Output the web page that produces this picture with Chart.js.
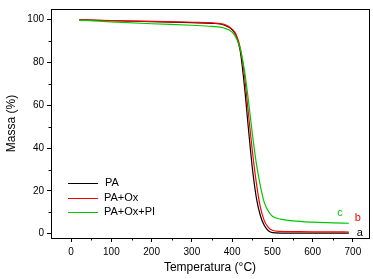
<!DOCTYPE html>
<html lang="pt">
<head>
<meta charset="UTF-8">
<title>TGA</title>
<script src="https://cdn.jsdelivr.net/npm/chart.js"></script>
<style>
  html, body { margin: 0; padding: 0; background: #fff; }
  #wrap { width: 373px; height: 279px; position: relative; }
</style>
</head>
<body>
<div id="wrap"><canvas id="tga"></canvas></div>
<script>
// temperatura (°C)
const temps = [20, 100, 200, 300, 350, 380, 400, 410, 420, 430, 440, 450, 460, 470, 480, 490, 500, 520, 550, 600, 650, 690];
// massa (%)
const massPA     = [100, 99.5, 99.1, 98.6, 98.3, 97.6, 95.3, 92.5, 85.5, 70, 50, 31, 17, 8.5, 3.8, 1.4, 0.5, 0.3, 0.3, 0.3, 0.3, 0.3];
const massPAOx   = [100, 99.6, 99.2, 98.8, 98.5, 97.8, 95.6, 93, 87, 75, 57, 39, 24, 12.5, 6, 3, 1.6, 1.1, 1, 0.9, 0.9, 0.8];
const massPAOxPI = [99.8, 99, 98.1, 97.4, 96.9, 96.1, 94.2, 91.5, 86.5, 77, 63, 47, 33, 22.5, 14.5, 10.5, 8.2, 6.8, 6, 5.4, 5.1, 4.9];

const seriesNames = ['PA', 'PA+Ox', 'PA+Ox+PI'];
const seriesColors = ['#000000', '#ff0000', '#00c800'];
const curveTags = ['a', 'b', 'c'];
const tagPos = [[717, 0.5], [712, 7.3], [668, 9.8]];

const xTicks = [0, 100, 200, 300, 400, 500, 600, 700];
const yTicks = [0, 20, 40, 60, 80, 100];

function pts(ys) { return temps.map((t, i) => ({ x: t, y: ys[i] })); }

const FONT = '"Liberation Sans", Arial, sans-serif';

// moldura, ticks menores, legenda e rotulos a/b/c
const extras = {
  id: 'extras',
  afterDraw(chart) {
    const ctx = chart.ctx, a = chart.chartArea;
    const xs = chart.scales.x, ys = chart.scales.y;
    ctx.save();
    ctx.strokeStyle = '#000';
    ctx.lineWidth = 1;
    ctx.strokeRect(Math.round(a.left) + 0.5, Math.round(a.top) + 0.5, Math.round(a.right - a.left), Math.round(a.bottom - a.top));
    // ticks menores
    ctx.beginPath();
    for (let v = 50; v < 740; v += 100) {
      const px = Math.round(xs.getPixelForValue(v)) + 0.5;
      ctx.moveTo(px, a.bottom); ctx.lineTo(px, a.bottom + 2.5);
    }
    for (let v = 10; v < 105; v += 20) {
      const py = Math.round(ys.getPixelForValue(v)) + 0.5;
      ctx.moveTo(a.left, py); ctx.lineTo(a.left - 2.5, py);
    }
    ctx.stroke();
    // legenda
    ctx.font = '11px ' + FONT;
    ctx.textBaseline = 'middle';
    const ly = [183, 198, 212];
    seriesNames.forEach((n, i) => {
      ctx.strokeStyle = seriesColors[i];
      ctx.beginPath();
      ctx.moveTo(68, ly[i] + 0.5); ctx.lineTo(98, ly[i] + 0.5);
      ctx.stroke();
      ctx.fillStyle = '#000';
      ctx.fillText(n, i === 0 ? 105 : 104, ly[i]);
    });
    // a, b, c
    ctx.font = '11px ' + FONT;
    ctx.textAlign = 'center';
    curveTags.forEach((t, i) => {
      ctx.fillStyle = seriesColors[i];
      ctx.fillText(t, xs.getPixelForValue(tagPos[i][0]), ys.getPixelForValue(tagPos[i][1]));
    });
    ctx.restore();
  }
};

new Chart(document.getElementById('tga'), {
  type: 'scatter',
  data: {
    datasets: seriesNames.map((n, i) => ({
      label: n,
      data: pts([massPA, massPAOx, massPAOxPI][i]),
      showLine: true,
      borderColor: seriesColors[i],
      borderWidth: 1.2,
      pointRadius: 0,
      tension: 0.4,
      cubicInterpolationMode: 'monotone'
    })).reverse()
  },
  options: {
    responsive: true,
    maintainAspectRatio: false,
    animation: false,
    layout: { padding: { top: 3, right: 4, left: 0, bottom: 0 } },
    plugins: { legend: { display: false }, tooltip: { enabled: false } },
    scales: {
      x: {
        type: 'linear', min: -50, max: 740,
        afterBuildTicks: s => { s.ticks = xTicks.map(v => ({ value: v })); },
        afterFit: s => { s.height = 41; },
        border: { display: false },
        grid: { drawOnChartArea: false, drawTicks: true, tickLength: 4, color: '#000' },
        ticks: { color: '#000', font: { family: FONT, size: 10 }, padding: 4, maxRotation: 0 },
        title: { display: true, text: 'Temperatura (°C)', color: '#000', font: { family: FONT, size: 12 }, padding: { top: 7 } }
      },
      y: {
        type: 'linear', min: -2, max: 105,
        afterBuildTicks: s => { s.ticks = yTicks.map(v => ({ value: v })); },
        afterFit: s => { s.width = 51; },
        border: { display: false },
        grid: { drawOnChartArea: false, drawTicks: true, tickLength: 4, color: '#000' },
        ticks: { color: '#000', font: { family: FONT, size: 10 }, padding: 3 },
        title: { display: true, text: 'Massa (%)', color: '#000', font: { family: FONT, size: 12 }, padding: { bottom: 2 } }
      }
    }
  },
  plugins: [extras]
});
</script>
</body>
</html>
